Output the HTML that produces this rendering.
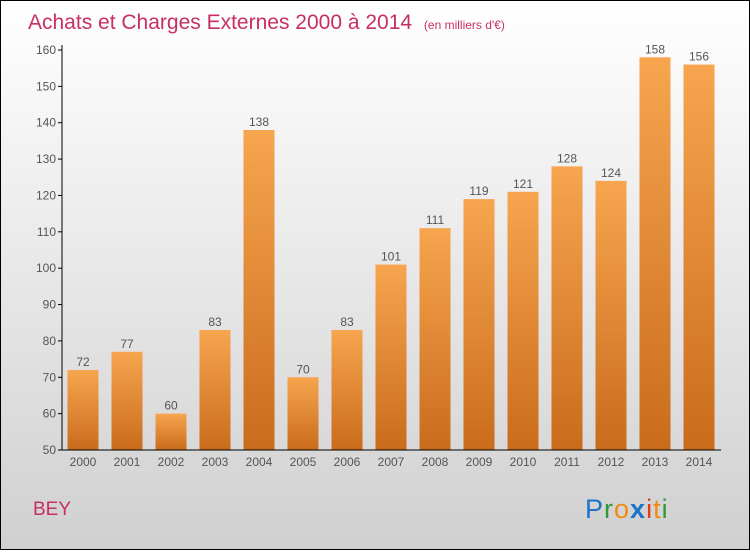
<!DOCTYPE html>
<html><head><meta charset="utf-8"><style>
body{margin:0;width:750px;height:550px;overflow:hidden}
#c{position:absolute;left:0;top:0;width:748px;height:548px;border:1px solid #000;background:linear-gradient(#ffffff,#d0d0d0)}
</style></head><body>
<div id="c">
<svg width="748" height="548" font-family="Liberation Sans, sans-serif">
<defs><linearGradient id="g" x1="0" y1="0" x2="0" y2="1"><stop offset="0" stop-color="#f7a54f"/><stop offset="1" stop-color="#c96c1c"/></linearGradient></defs>
<text x="27" y="28" font-size="21" fill="#c8305f">Achats et Charges Externes 2000 à 2014 <tspan font-size="12" dx="6">(en milliers d'€)</tspan></text>
<text x="32" y="514" font-size="19" fill="#c8305f">BEY</text>
<text x="584" y="517" font-size="27" letter-spacing="1"><tspan fill="#1a73c8">P</tspan><tspan fill="#2e9b3a">r</tspan><tspan fill="#f08a10">o</tspan><tspan fill="#1a73c8" font-weight="bold">x</tspan><tspan fill="#e23a1a">i</tspan><tspan fill="#f08a10">t</tspan><tspan fill="#2e9b3a">i</tspan></text>
<g id="plot"></g>
</svg></div>
<script>
const categories=["2000","2001","2002","2003","2004","2005","2006","2007","2008","2009","2010","2011","2012","2013","2014"];
const values=[72,77,60,83,138,70,83,101,111,119,121,128,124,158,156];
const yTicks=[50,60,70,80,90,100,110,120,130,140,150,160];
const ns="http://www.w3.org/2000/svg";
const g=document.getElementById('plot');
const y=v=>449-(v-50)*400/110;
const x=i=>82+i*44;
function mk(t,a,txt){const e=document.createElementNS(ns,t);for(const k in a)e.setAttribute(k,a[k]);if(txt!=null)e.textContent=txt;g.appendChild(e);return e;}
yTicks.forEach(v=>{
 const l=mk('line',{x1:57,x2:61,y1:y(v),y2:y(v),stroke:'#000'});
 
 
 const t=mk('text',{x:55,y:y(v)+4,'font-size':12,fill:'#555','text-anchor':'end'},v);
 
 
});
values.forEach((v,i)=>{
 const r=mk('rect',{x:x(i)-15.5,y:y(v),width:31,height:y(50)-y(v),fill:'url(#g)'});
 
 
 const t=mk('text',{x:x(i),y:y(v)-4,'font-size':12,fill:'#555','text-anchor':'middle'},v);
 
 
 const c=mk('text',{x:x(i),y:465,'font-size':12,fill:'#555','text-anchor':'middle'},categories[i]);
 
 
});
const ax=mk('path',{d:'M61,44 V449 H720',stroke:'#000',fill:'none'});


</script>
</body></html>
